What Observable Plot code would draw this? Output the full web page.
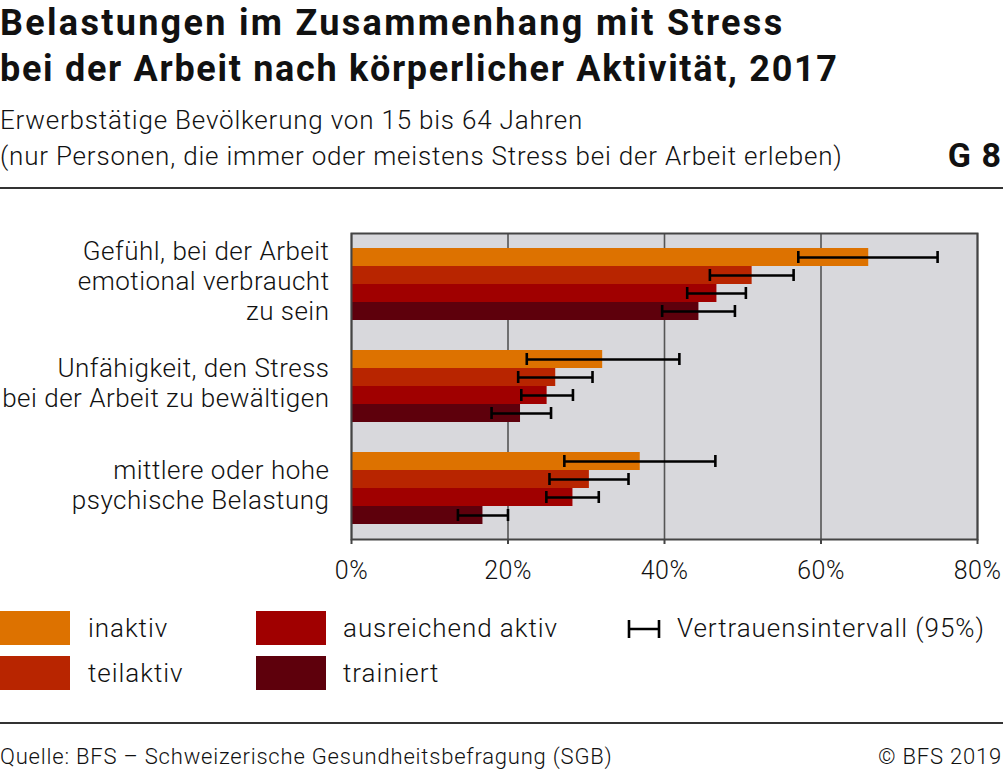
<!DOCTYPE html>
<html>
<head>
<meta charset="utf-8">
<script src="https://cdn.jsdelivr.net/npm/d3@7"></script>
<script src="https://cdn.jsdelivr.net/npm/@observablehq/plot@0.6"></script>
<style>
  html, body { margin: 0; padding: 0; background: #fff; }
  body { width: 1003px; height: 772px; position: relative; overflow: hidden; font-family: Roboto, "Noto Sans", sans-serif; color: #111; }
  .abs { position: absolute; white-space: nowrap; }
  #title { left: 0; top: 0px; font-size: 36px; font-weight: 700; line-height: 46px; letter-spacing: 1.7px; }
  #title .l1 { letter-spacing: 2.3px; }
  #subtitle { left: 0; top: 102px; font-size: 26px; font-weight: 300; line-height: 36px; letter-spacing: 0.8px; }
  #gnum { right: 1px; top: 135px; font-size: 34px; font-weight: 700; line-height: 40px; letter-spacing: 1px; }
  .rule { position: absolute; left: 0; width: 1003px; height: 2px; background: #333; }
  #chart { position: absolute; left: 0; top: 190px; }
  .sw { position: absolute; width: 70px; height: 34px; }
  .lt { position: absolute; font-size: 26px; font-weight: 300; line-height: 34px; white-space: nowrap; letter-spacing: 0.95px; }
  .foot { position: absolute; top: 743px; font-size: 22px; font-weight: 300; line-height: 28px; white-space: nowrap; letter-spacing: 0.8px; }
</style>
</head>
<body>
<div id="title" class="abs"><span class="l1">Belastungen im Zusammenhang mit Stress</span><br>bei der Arbeit nach körperlicher Aktivität, 2017</div>
<div id="subtitle" class="abs">Erwerbstätige Bevölkerung von 15 bis 64 Jahren<br>(nur Personen, die immer oder meistens Stress bei der Arbeit erleben)</div>
<div id="gnum" class="abs">G 8</div>
<div class="rule" style="top:187px"></div>
<div id="chart"></div>
<div id="legend"></div>
<div class="rule" style="top:722px"></div>
<div class="foot" style="left:0">Quelle: BFS – Schweizerische Gesundheitsbefragung (SGB)</div>
<div class="foot" style="right:1px">© BFS 2019</div>
<script>
const categories = [
  "Gefühl, bei der Arbeit\nemotional verbraucht\nzu sein",
  "Unfähigkeit, den Stress\nbei der Arbeit zu bewältigen",
  "mittlere oder hohe\npsychische Belastung"
];
const levels = ["inaktiv", "teilaktiv", "ausreichend aktiv", "trainiert"];
const levelColors = ["#dd7200", "#b82500", "#a00000", "#5e000c"];
// values in % per category, per level
const values = [
  [66.1, 51.2, 46.7, 44.4],
  [32.1, 26.1, 25.0, 21.6],
  [36.9, 30.4, 28.3, 16.8]
];
const ciLow = [
  [57.1, 45.8, 42.9, 39.7],
  [22.4, 21.3, 21.7, 17.9],
  [27.2, 25.3, 24.9, 13.6]
];
const ciHigh = [
  [74.9, 56.5, 50.4, 49.0],
  [41.9, 30.8, 28.3, 25.5],
  [46.5, 35.4, 31.6, 20.0]
];
const xTicks = [0, 20, 40, 60, 80];
const ciLabel = "Vertrauensintervall (95%)";

const data = [];
categories.forEach((c, i) => levels.forEach((l, j) => {
  data.push({category: c, level: l, value: values[i][j], lo: ciLow[i][j], hi: ciHigh[i][j]});
}));

const chart = Plot.plot({
  width: 1003,
  height: 410,
  marginLeft: 351,
  marginRight: 26,
  marginTop: 42,
  marginBottom: 61,
  style: {fontFamily: "Roboto, sans-serif", color: "#111", background: "transparent", overflow: "visible", letterSpacing: "0.5px"},
  x: {domain: [0, 80], label: null, axis: null},
  y: {domain: levels, paddingInner: 0, paddingOuter: 0.7, axis: null},
  fy: {domain: categories, padding: 0, axis: null},
  color: {domain: levels, range: levelColors},
  marks: [
    Plot.frame({facet: "super", fill: "#d8d8dc"}),
    Plot.ruleX(xTicks, {stroke: "#555", strokeWidth: 1.6}),
    Plot.barX(data, {x: "value", y: "level", fy: "category", fill: "level"}),
    Plot.link(data, {x1: "lo", x2: "hi", y1: "level", y2: "level", fy: "category", stroke: "#000", strokeWidth: 2.6}),
    Plot.tickX(data, {x: "lo", y: "level", fy: "category", stroke: "#000", strokeWidth: 2.6, insetTop: 3, insetBottom: 3}),
    Plot.tickX(data, {x: "hi", y: "level", fy: "category", stroke: "#000", strokeWidth: 2.6, insetTop: 3, insetBottom: 3}),
    Plot.text(categories, {fy: d => d, text: d => d, frameAnchor: "left", textAnchor: "end", dx: -22, dy: -4, fontSize: 26, fontWeight: 300, lineHeight: 1.15, fill: "#111"}),
    Plot.frame({facet: "super", stroke: "#444", strokeWidth: 2, fill: "none"}),
    Plot.axisX(xTicks, {anchor: "bottom", tickFormat: d => d + "%", tickSize: 5, tickPadding: 17, fontSize: 25, fontWeight: 300, stroke: "#444", strokeWidth: 2, fill: "#111"})
  ]
});
document.getElementById("chart").appendChild(chart);

// legend
const legend = document.getElementById("legend");
const pos = [
  {sx: 0, tx: 88, y: 611}, {sx: 0, tx: 88, y: 656},
  {sx: 256, tx: 343, y: 611}, {sx: 256, tx: 343, y: 656}
];
levels.forEach((l, i) => {
  const p = pos[i];
  const s = document.createElement("div");
  s.className = "sw";
  s.style.left = p.sx + "px"; s.style.top = p.y + "px"; s.style.background = levelColors[i];
  legend.appendChild(s);
  const t = document.createElement("div");
  t.className = "lt";
  t.style.left = p.tx + "px"; t.style.top = p.y + "px";
  t.textContent = l;
  legend.appendChild(t);
});
const ci = document.createElementNS("http://www.w3.org/2000/svg", "svg");
ci.setAttribute("width", 36); ci.setAttribute("height", 24);
ci.style.position = "absolute"; ci.style.left = "626px"; ci.style.top = "617px";
ci.innerHTML = '<path d="M3,3V21M33,3V21M3,12H33" stroke="#000" stroke-width="2.6" fill="none"/>';
legend.appendChild(ci);
const cit = document.createElement("div");
cit.className = "lt";
cit.style.left = "677px"; cit.style.top = "611px";
cit.textContent = ciLabel;
legend.appendChild(cit);
</script>
</body>
</html>
